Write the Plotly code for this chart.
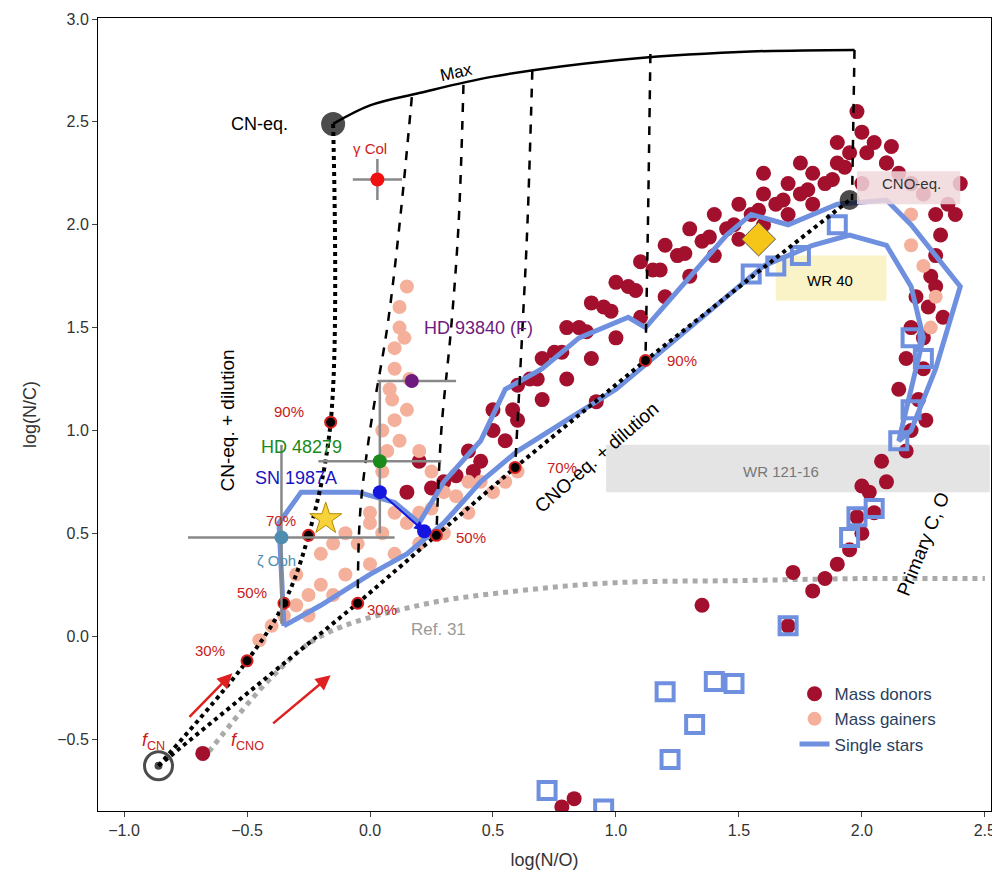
import plotly.graph_objects as go

# ---------------- data ----------------
donor_x = [0.45,0.55,0.6,0.7,0.8,0.9,1.0,1.1,1.2,1.3,1.4,1.5,1.6,1.7,1.8,
           0.5,0.6,0.7,0.8,0.9,1.0,1.1,1.2,1.3,1.4,1.5,1.6,1.7,1.8,1.9,1.95,2.0,2.02,2.1,2.15,2.2,2.25,2.3,2.32,2.3,
           0.65,0.75,0.85,0.95,1.05,1.15,1.25,1.35,1.45,1.55,1.65,1.75,1.85,
           0.5,0.58,0.68,0.78,0.88,0.98,1.08,1.18,1.28,1.38,1.48,1.58,1.68,1.78,1.88,1.93,
           2.28,2.27,2.25,2.25,2.23,2.2,2.18,2.1,2.05,2.0,1.95,1.9,1.85,1.8,2.35,2.4,
           2.22,2.2,2.18,2.15,2.08,2.03,1.98,2.3,2.33,2.26,2.12,2.0,
           0.15,0.25,0.35,0.3,0.2,0.4,0.42,
           0.92,1.35,2.0,1.72,1.7,-0.68,0.78,0.83,1.6,1.75,1.9,1.98,2.05,2.1,2.38]
donor_y = [0.85,0.95,1.05,1.15,1.25,1.35,1.45,1.55,1.65,1.75,1.85,1.93,2.0,2.05,2.1,
           1.1,1.22,1.35,1.5,1.62,1.72,1.82,1.9,1.98,2.05,2.1,2.15,2.2,2.25,2.3,2.35,2.45,2.35,2.3,2.25,2.2,2.15,2.05,1.95,1.85,
           1.25,1.38,1.5,1.6,1.7,1.78,1.85,1.92,1.98,2.05,2.1,2.15,2.2,
           1.0,1.1,1.25,1.38,1.48,1.58,1.68,1.78,1.86,1.94,2.0,2.07,2.12,2.17,2.22,2.28,
           1.75,1.6,1.45,1.3,1.15,1.0,0.9,0.75,0.6,0.5,0.42,0.35,0.28,0.22,2.1,2.2,
           1.65,1.5,1.35,1.2,0.85,0.7,0.58,1.7,1.55,1.05,2.38,2.2,
           0.7,0.72,0.78,0.75,0.85,0.9,0.8,
           1.14,0.15,0.73,0.31,0.05,-0.57,-0.83,-0.79,2.25,2.3,2.4,2.55,2.4,2.3,2.05]

gainer_x = [-0.45,-0.4,-0.35,-0.3,-0.25,-0.2,-0.1,0.0,0.1,0.2,0.3,0.4,0.5,0.55,-0.2,-0.1,0.0,
            0.05,0.05,0.08,0.1,0.1,0.12,0.12,0.15,0.15,0.2,0.3,0.4,0.1,0.2,-0.3,-0.15,0.0,0.25,
            -0.05,0.05,0.15,0.25,0.35,0.45,-0.25,-0.15,0.12,0.07,0.1,0.16,0.14,0.09,
            2.2,2.25,2.28,2.3,2.2,0.6]
gainer_y = [-0.02,0.05,0.1,0.15,0.2,0.25,0.3,0.35,0.4,0.45,0.5,0.6,0.7,0.75,0.4,0.5,0.6,
            0.8,1.0,1.2,1.3,1.4,1.5,1.6,1.7,1.1,0.9,0.7,0.75,0.6,0.6,0.3,0.45,0.55,0.8,
            0.45,0.5,0.55,0.62,0.68,0.75,0.1,0.2,0.95,0.9,1.05,1.25,1.45,1.15,
            1.9,1.8,1.5,1.65,2.05,0.8]

single_x = [-0.35,-0.37,-0.28,-0.05,0.1,0.2,0.3,0.45,0.55,0.7,0.85,1.05,1.12,1.3,1.45,1.55,1.7,1.9,2.1,
            2.2,2.3,2.4,2.35,2.3,2.25,2.2,2.15,2.2,2.25,2.2,2.1,1.95,1.8,1.6,1.4,1.2,1.0,0.8,0.6,0.45,0.3,0.15,0.0,-0.2,-0.35]
single_y = [0.05,0.55,0.7,0.7,0.65,0.55,0.75,0.95,1.2,1.3,1.45,1.55,1.5,1.75,1.95,2.05,2.0,2.1,2.12,
            2.0,1.85,1.7,1.5,1.3,1.15,1.0,0.95,1.2,1.45,1.7,1.9,1.95,1.9,1.8,1.6,1.4,1.2,1.05,0.9,0.75,0.55,0.4,0.3,0.15,0.05]
sq_x = [2.2,2.25,2.2,2.15,1.98,2.05,1.95,1.7,1.2,1.32,1.22,1.4,1.48,0.72,0.95,1.55,1.65,1.75,1.9]
sq_y = [1.45,1.35,1.1,0.95,0.58,0.62,0.48,0.05,-0.27,-0.43,-0.6,-0.22,-0.23,-0.75,-0.84,1.76,1.8,1.85,2.0]

max_x = [-0.15,0.0,0.2,0.5,1.0,1.5,1.97]
max_y = [2.49,2.58,2.64,2.72,2.8,2.84,2.85]
cn_x = [-0.86,-0.5,-0.35,-0.25,-0.16,-0.15]
cn_y = [-0.63,-0.12,0.16,0.49,1.04,2.49]
cno_x = [-0.86,-0.05,0.27,0.59,1.12,1.95]
cno_y = [-0.63,0.16,0.49,0.82,1.34,2.12]
dash_lines = [([0.17,0.12,0.07,0.0,-0.04,-0.05],[2.62,2.0,1.5,1.0,0.6,0.16]),
              ([0.38,0.36,0.33,0.29,0.27],[2.68,2.0,1.5,1.0,0.49]),
              ([0.66,0.64,0.62,0.59],[2.75,2.0,1.5,0.82]),
              ([1.14,1.13,1.12],[2.83,2.0,1.34]),
              ([1.97,1.96],[2.85,2.12])]
ref_x = [-0.68,-0.4,-0.2,0.2,0.6,1.0,1.5,2.0,2.5]
ref_y = [-0.6,-0.2,0.0,0.15,0.22,0.26,0.27,0.28,0.28]

fig = go.Figure()
RED = "#a3102e"; SAL = "#f4b09a"; BLUE = "#6f8fdf"

fig.add_shape(type="rect", x0=1.65, x1=2.1, y0=1.63, y1=1.85, fillcolor="#fbf3c8", line_width=0, layer="below")
fig.add_shape(type="rect", x0=0.96, x1=2.52, y0=0.7, y1=0.93, fillcolor="#e4e4e4", line_width=0, layer="below")

fig.add_trace(go.Scatter(x=ref_x, y=ref_y, mode="lines", line=dict(color="#aaaaaa", dash="dot", width=5, shape="spline"), showlegend=False))
fig.add_trace(go.Scatter(x=donor_x, y=donor_y, mode="markers", marker=dict(color=RED, size=15), name="Mass donors"))
fig.add_trace(go.Scatter(x=gainer_x, y=gainer_y, mode="markers", marker=dict(color=SAL, size=14), name="Mass gainers"))
fig.add_trace(go.Scatter(x=single_x, y=single_y, mode="lines", line=dict(color=BLUE, width=5), name="Single stars"))
fig.add_trace(go.Scatter(x=sq_x, y=sq_y, mode="markers", marker=dict(symbol="square-open", size=17, color=BLUE, line=dict(width=4, color=BLUE)), showlegend=False))
fig.add_shape(type="rect", x0=1.98, x1=2.4, y0=2.1, y1=2.26, fillcolor="rgba(240,215,220,0.85)", line_width=0)

fig.add_trace(go.Scatter(x=max_x, y=max_y, mode="lines", line=dict(color="black", width=2.5, shape="spline"), showlegend=False))
for dx, dy in dash_lines:
    fig.add_trace(go.Scatter(x=dx, y=dy, mode="lines", line=dict(color="black", width=2.5, dash="dash", shape="spline"), showlegend=False))
fig.add_trace(go.Scatter(x=cn_x, y=cn_y, mode="lines", line=dict(color="black", width=4, dash="dot", shape="spline"), showlegend=False))
fig.add_trace(go.Scatter(x=cno_x, y=cno_y, mode="lines", line=dict(color="black", width=4, dash="dot"), showlegend=False))
fig.add_trace(go.Scatter(x=cn_x[1:5]+cno_x[1:5], y=cn_y[1:5]+cno_y[1:5], mode="markers",
                         marker=dict(color="black", size=11, line=dict(color="#d62020", width=2)), showlegend=False))
fig.add_trace(go.Scatter(x=[-0.15, 1.95], y=[2.49, 2.12], mode="markers", marker=dict(color="black", size=[24, 20], line=dict(width=0)), showlegend=False))
fig.add_trace(go.Scatter(x=[-0.86, -0.86], y=[-0.63, -0.63], mode="markers",
                         marker=dict(symbol=["circle-open", "circle"], color="black", size=[28, 5], line=dict(width=3, color="black")), showlegend=False))

def star(x, y, c, ex=None, ey=None, exm=None, eym=None):
    fig.add_trace(go.Scatter(x=[x], y=[y], mode="markers", marker=dict(color=c, size=14),
        error_x=dict(type="data", array=[ex or 0], arrayminus=[exm if exm is not None else (ex or 0)], color="#888", thickness=2.5, width=0, visible=ex is not None),
        error_y=dict(type="data", array=[ey or 0], arrayminus=[eym if eym is not None else (ey or 0)], color="#888", thickness=2.5, width=0, visible=ey is not None),
        showlegend=False))
star(0.04, 0.85, "#1a8a1a", ex=0.25, ey=0.39, eym=0.35)
star(0.17, 1.24, "#6e1a7e", ex=0.18, exm=0.14)
star(0.03, 2.22, "#f01010", ex=0.1, ey=0.1)
star(-0.36, 0.48, "#4f8db0", ex=0.46, exm=0.38, ey=0.45, eym=0.42)
fig.add_trace(go.Scatter(x=[0.04, 0.22], y=[0.7, 0.51], mode="markers", marker=dict(color="#1515e0", size=14), showlegend=False))
fig.add_annotation(x=0.22, y=0.51, ax=0.04, ay=0.7, axref="x", ayref="y", showarrow=True, arrowhead=2, arrowcolor="#1515e0", arrowwidth=2, text="")
fig.add_trace(go.Scatter(x=[-0.18], y=[0.57], mode="markers", marker=dict(symbol="star", color="#f7d23a", size=24, line=dict(color="#b08a00", width=1)), showlegend=False))
fig.add_trace(go.Scatter(x=[1.58], y=[1.93], mode="markers", marker=dict(symbol="diamond", color="#f5c518", size=26, line=dict(color="#555", width=1)), showlegend=False))

def txt(x, y, t, c="black", s=17, ang=0):
    fig.add_annotation(x=x, y=y, text=t, showarrow=False, font=dict(color=c, size=s), textangle=ang)
txt(0.35, 2.74, "Max", ang=-12)
txt(-0.45, 2.49, "CN-eq.", s=18)
txt(0.0, 2.37, "γ Col", c="#d02020", s=15)
txt(0.44, 1.5, "HD 93840 (F)", c="#6e1a7e", s=18)
txt(-0.28, 0.92, "HD 48279", c="#1a8a1a", s=18)
txt(-0.3, 0.77, "SN 1987A", c="#1515c0", s=18)
txt(-0.38, 0.37, "ζ Oph", c="#4f8db0", s=15)
txt(-0.58, 1.05, "CN-eq. + dilution", s=19, ang=-90)
txt(0.92, 0.87, "CNO-eq. + dilution", s=19, ang=-41)
txt(2.25, 0.45, "Primary C, O", s=19, ang=-68)
txt(0.28, 0.03, "Ref. 31", c="#999", s=17)
txt(1.87, 1.73, "WR 40", s=15)
txt(1.67, 0.8, "WR 121-16", c="#777", s=15)
txt(2.2, 2.2, "CNO-eq.", s=15, c="#333")
for x, y, t in [(-0.65,-0.07,"30%"),(-0.48,0.21,"50%"),(-0.36,0.56,"70%"),(-0.33,1.09,"90%"),
                (0.05,0.13,"30%"),(0.41,0.48,"50%"),(0.78,0.82,"70%"),(1.27,1.34,"90%")]:
    txt(x, y, t, c="#c82020", s=15)
txt(-0.88, -0.51, "<i>f</i><sub>CN</sub>", c="#c82020", s=18)
txt(-0.5, -0.51, "<i>f</i><sub>CNO</sub>", c="#c82020", s=18)
for x0, y0, x1, y1 in [(-0.74,-0.4,-0.56,-0.18),(-0.4,-0.43,-0.16,-0.19)]:
    fig.add_annotation(x=x1, y=y1, ax=x0, ay=y0, axref="x", ayref="y", showarrow=True, arrowhead=2, arrowsize=1.2, arrowcolor="#e02020", arrowwidth=2.5, text="")

ax = dict(showline=True, linecolor="black", linewidth=1, mirror=True, ticks="outside", showgrid=False, zeroline=False,
          tickfont=dict(size=16, color="#333"), automargin=False)
fig.update_layout(width=1000, height=887, plot_bgcolor="white", paper_bgcolor="white",
                  margin=dict(l=90, r=17, t=10, b=84), font=dict(family="Liberation Sans"),
                  xaxis=dict(ax, range=[-1.106, 2.525], tickvals=[-1.0,-0.5,0,0.5,1.0,1.5,2.0,2.5], tickformat=".1f",
                             title=dict(text="log(N/O)", font=dict(size=18, color="#333"))),
                  yaxis=dict(ax, range=[-0.85, 3.005], tickvals=[-0.5,0,0.5,1.0,1.5,2.0,2.5,3.0], tickformat=".1f",
                             title=dict(text="log(N/C)", font=dict(size=18, color="#333"))),
                  legend=dict(x=0.78, y=0.17, xanchor="left", yanchor="top", font=dict(size=17), bgcolor="rgba(0,0,0,0)"))
fig.write_html("out.html")
